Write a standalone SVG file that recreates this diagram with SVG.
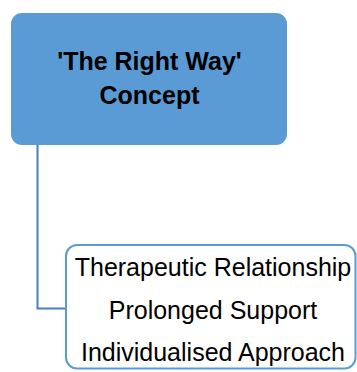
<svg xmlns="http://www.w3.org/2000/svg" width="357" height="372" viewBox="0 0 357 372">
<style>
.title{font-family:"Liberation Sans",Arial,sans-serif;font-weight:bold;font-size:25px;fill:#000;text-anchor:middle}
.item{font-family:"Liberation Sans",Arial,sans-serif;font-size:25px;fill:#000;text-anchor:middle}
.conn{fill:none;stroke:#4a7ebb;stroke-width:2}
</style>
<rect width="357" height="372" fill="#fff"/>
<g id="connectors">
<path class="conn" d="M37.5,145 V308.5 H66"/>
</g>
<g id="root">
<rect x="11" y="13" width="276" height="132" rx="11" ry="11" fill="#5b9bd5"/>
<text class="title" x="149.5" y="70">'The Right Way'</text>
<text class="title" x="149.5" y="104">Concept</text>
</g>
<g id="child">
<rect x="66" y="245" width="289.5" height="123.5" rx="11" ry="11" fill="#fff" stroke="#5b9bd5" stroke-width="2"/>
<text class="item" x="213" y="276">Therapeutic Relationship</text>
<text class="item" x="213" y="318.5">Prolonged Support</text>
<text class="item" x="213" y="361">Individualised Approach</text>
</g>
</svg>
